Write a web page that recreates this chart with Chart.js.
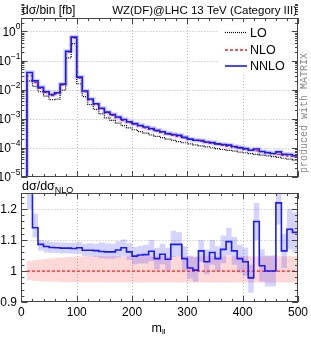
<!DOCTYPE html>
<html>
<head>
<meta charset="utf-8">
<script src="https://cdn.jsdelivr.net/npm/chart.js@4.4.1/dist/chart.umd.min.js"></script>
<style>
body { margin: 0; background: #fff; }
#wrap { position: relative; width: 311px; height: 340px; }
canvas { position: absolute; left: 0; top: 0; }
</style>
</head>
<body>
<div id="wrap">
  <canvas id="mainChart" width="311" height="340"></canvas>
  <canvas id="ratioChart" width="311" height="340"></canvas>
</div>
<script>
// bin edges in m_ll (GeV), 49 bins of width 10
const binEdges = [10, 20, 30, 40, 50, 60, 70, 80, 90, 100,
  110, 120, 130, 140, 150, 160, 170, 180, 190, 200,
  210, 220, 230, 240, 250, 260, 270, 280, 290, 300,
  310, 320, 330, 340, 350, 360, 370, 380, 390, 400,
  410, 420, 430, 440, 450, 460, 470, 480, 490, 500];

// dsigma/bin [fb]
const lo = [0.020, 0.0130, 0.0085, 0.0060, 0.0045, 0.0047, 0.0097, 0.123, 0.38, 0.016,
  0.0058, 0.0031, 0.0021, 0.00147, 0.00108, 0.00088, 0.00071, 0.00058, 0.00049, 0.00042,
  0.00036, 0.00032, 0.00028, 0.00025, 0.000225, 0.000200, 0.000181, 0.000165, 0.000150, 0.000138,
  0.000127, 0.000117, 0.000109, 0.000101, 0.000094, 0.000088, 0.000082, 0.000077, 0.000072, 0.000068,
  0.000064, 0.000060, 0.000056, 0.000053, 0.000050, 0.000047, 0.000044, 0.000041, 0.000038];
const nlo = [0.030, 0.0175, 0.0110, 0.0079, 0.0063, 0.0073, 0.0144, 0.196, 0.596, 0.0251,
  0.00843, 0.0045, 0.0031, 0.00216, 0.0016, 0.00132, 0.00108, 0.000874, 0.000744, 0.00065,
  0.00056, 0.00049, 0.00043, 0.00038, 0.00034, 0.00030, 0.00027, 0.000245, 0.00022, 0.00020,
  0.000183, 0.000168, 0.000155, 0.000143, 0.000132, 0.000122, 0.000113, 0.000105, 0.000098, 0.000091,
  0.000085, 0.000079, 0.000074, 0.000069, 0.000064, 0.000060, 0.000056, 0.000052, 0.000048];
const nnlo = [0.039, 0.020, 0.012, 0.0085, 0.0068, 0.0078, 0.0155, 0.21, 0.64, 0.027,
  0.0090, 0.0048, 0.0033, 0.0023, 0.0017, 0.0014, 0.00115, 0.00094, 0.00079, 0.00068,
  0.00059, 0.00052, 0.00046, 0.00040, 0.00036, 0.00031, 0.00029, 0.00027, 0.00023, 0.00020,
  0.000184, 0.000179, 0.000160, 0.000152, 0.000137, 0.000131, 0.000124, 0.000112, 0.000102, 0.000094,
  0.000083, 0.000092, 0.000075, 0.000069, 0.000064, 0.000073, 0.000060, 0.000059, 0.000054];

// ratio to NLO
const nloRatio = 1.0;
const nnloRatio = [1.30, 1.14, 1.086, 1.079, 1.076, 1.075, 1.074, 1.074, 1.073, 1.075,
  1.067, 1.067, 1.066, 1.063, 1.062, 1.062, 1.068, 1.075, 1.062, 1.048,
  1.052, 1.053, 1.064, 1.040, 1.054, 1.038, 1.086, 1.086, 1.040, 1.010,
  1.003, 1.065, 1.030, 1.060, 1.040, 1.070, 1.095, 1.065, 1.040, 1.030,
  0.978, 1.160, 1.017, 1.000, 1.000, 1.220, 1.065, 1.135, 1.125];
const nnloBandLo = [1.200, 1.108, 1.066, 1.060, 1.058, 1.058, 1.057, 1.057, 1.056, 1.056,
  1.048, 1.047, 1.045, 1.042, 1.040, 1.040, 1.044, 1.048, 1.036, 1.022,
  1.024, 1.024, 1.032, 1.005, 1.022, 1.002, 1.045, 1.048, 1.000, 0.975,
  0.965, 1.030, 0.990, 1.020, 1.000, 1.025, 1.050, 1.020, 0.995, 0.985,
  0.930, 1.100, 0.965, 0.950, 0.950, 1.150, 1.010, 1.070, 1.060];
const nnloBandHi = [1.400, 1.186, 1.100, 1.097, 1.094, 1.093, 1.092, 1.091, 1.091, 1.094,
  1.088, 1.090, 1.088, 1.092, 1.090, 1.088, 1.096, 1.102, 1.090, 1.078,
  1.082, 1.085, 1.100, 1.075, 1.088, 1.075, 1.130, 1.125, 1.080, 1.050,
  1.045, 1.100, 1.070, 1.100, 1.080, 1.115, 1.140, 1.110, 1.085, 1.075,
  1.020, 1.220, 1.070, 1.050, 1.050, 1.300, 1.120, 1.200, 1.190];
const nloBandLo = [0.970, 0.968, 0.967, 0.966, 0.965, 0.965, 0.964, 0.964, 0.964, 0.964,
  0.964, 0.964, 0.964, 0.964, 0.964, 0.963, 0.963, 0.963, 0.963, 0.963,
  0.963, 0.963, 0.963, 0.963, 0.963, 0.963, 0.963, 0.963, 0.963, 0.963,
  0.963, 0.963, 0.963, 0.963, 0.963, 0.963, 0.963, 0.963, 0.963, 0.963,
  0.963, 0.963, 0.963, 0.963, 0.963, 0.963, 0.963, 0.963, 0.963];
const nloBandHi = [1.032, 1.035, 1.037, 1.039, 1.041, 1.043, 1.044, 1.045, 1.046, 1.047,
  1.047, 1.047, 1.048, 1.048, 1.048, 1.048, 1.048, 1.048, 1.048, 1.048,
  1.048, 1.048, 1.048, 1.048, 1.048, 1.048, 1.048, 1.048, 1.048, 1.048,
  1.048, 1.048, 1.048, 1.048, 1.048, 1.048, 1.048, 1.048, 1.048, 1.048,
  1.048, 1.048, 1.048, 1.048, 1.048, 1.048, 1.048, 1.048, 1.048];

const xTicks = [0, 100, 200, 300, 400, 500];
const yExponents = [0, -1, -2, -3, -4, -5];
const ratioTicks = [0.9, 1, 1.1, 1.2];
const seriesNames = ['LO', 'NLO', 'NNLO'];

const FONT = '"Liberation Sans", Arial, sans-serif';
const BLUE = '#1a1aff', RED = '#ff1a1a', BLACK = '#000';

// histogram outline: hold each bin's value up to the next edge
function steps(vals, floor) {
  const pts = [];
  if (floor !== undefined) pts.push({ x: binEdges[0], y: floor });
  vals.forEach((v, i) => pts.push({ x: binEdges[i], y: v }));
  pts.push({ x: binEdges[vals.length], y: vals[vals.length - 1] });
  return pts;
}

function seg(ctx, x1, y1, x2, y2) {
  ctx.beginPath(); ctx.moveTo(x1, y1); ctx.lineTo(x2, y2); ctx.stroke();
}

function framePlugin(cfg) {
  return {
    id: 'frame',
    beforeDatasetsDraw(chart) {
      const { ctx, chartArea: a, scales: { x, y } } = chart;
      ctx.save();
      ctx.strokeStyle = '#b8b8b8';
      ctx.lineWidth = 1;
      ctx.setLineDash([1, 2]);
      xTicks.slice(1, -1).forEach(v => {
        const px = Math.round(x.getPixelForValue(v)) + 0.5;
        seg(ctx, px, a.top, px, a.bottom);
      });
      cfg.yGrid.forEach(v => {
        const py = Math.round(y.getPixelForValue(v)) + 0.5;
        seg(ctx, a.left, py, a.right, py);
      });
      ctx.restore();
    },
    afterDatasetsDraw(chart) {
      const { ctx, chartArea: a, scales: { x, y } } = chart;
      ctx.save();
      ctx.strokeStyle = '#444';
      ctx.lineWidth = 1;
      // ticks pointing inwards on all four sides
      for (let v = 0; v <= 500; v += 20) {
        const px = Math.round(x.getPixelForValue(v)) + 0.5;
        const len = v % 100 === 0 ? 6 : 3;
        seg(ctx, px, a.bottom, px, a.bottom - len);
        seg(ctx, px, a.top, px, a.top + len);
      }
      cfg.yMajor.forEach(v => {
        const py = Math.round(y.getPixelForValue(v)) + 0.5;
        seg(ctx, a.left, py, a.left + 6, py);
        seg(ctx, a.right, py, a.right - 6, py);
      });
      cfg.yMinor.forEach(v => {
        const py = Math.round(y.getPixelForValue(v)) + 0.5;
        seg(ctx, a.left, py, a.left + 3, py);
        seg(ctx, a.right, py, a.right - 3, py);
      });
      ctx.strokeRect(Math.round(a.left) + 0.5, Math.round(a.top) + 0.5,
        Math.round(a.right - a.left) - 1, Math.round(a.bottom - a.top) - 1);
      ctx.restore();
      cfg.extra(chart);
    }
  };
}

// ---------- main panel ----------
const yMinor = [];
for (let e = -5; e <= 0; e++) {
  for (let k = 2; k <= 9; k++) yMinor.push(k * Math.pow(10, e));
}

new Chart(document.getElementById('mainChart'), {
  type: 'line',
  data: {
    datasets: [
      { data: steps(nnlo, 1e-5), borderColor: BLUE, borderWidth: 1.6 },
      { data: steps(nlo, 1e-5), borderColor: RED, borderWidth: 1.3, borderDash: [3, 2] },
      { data: steps(nnlo, 1e-5), borderColor: 'rgba(60,60,255,0.22)', borderWidth: 4.5 },
      { data: steps(lo, 1e-5), borderColor: BLACK, borderWidth: 1.2, borderDash: [1, 1] }
    ]
  },
  options: {
    responsive: false, animation: false, devicePixelRatio: 1,
    layout: { padding: { left: 21.4, right: 13, top: 18, bottom: 163 } },
    elements: { point: { radius: 0 }, line: { stepped: 'before', tension: 0, fill: false } },
    plugins: { legend: { display: false }, tooltip: { enabled: false } },
    scales: {
      x: { type: 'linear', min: 0, max: 500, display: false },
      y: { type: 'logarithmic', min: 1e-5, max: 2.9, display: false }
    }
  },
  plugins: [framePlugin({
    yGrid: [1, 0.1, 0.01, 0.001, 0.0001],
    yMajor: yExponents.map(e => Math.pow(10, e)),
    yMinor: yMinor,
    extra(chart) {
      const { ctx, scales: { y } } = chart;
      ctx.save();
      ctx.fillStyle = '#000';
      // y tick labels 10^n
      yExponents.forEach(e => {
        const py = y.getPixelForValue(Math.pow(10, e));
        const ex = String(e).replace('-', '\u2212');
        ctx.font = '8.5px ' + FONT;
        const ew = ctx.measureText(ex).width;
        ctx.textAlign = 'left'; ctx.textBaseline = 'alphabetic';
        ctx.fillText(ex, 20.5 - ew, py - 2);
        ctx.font = '12px ' + FONT;
        ctx.textAlign = 'right'; ctx.textBaseline = 'middle';
        ctx.fillText('10', 20.5 - ew, py + 1);
      });
      ctx.font = '12px ' + FONT;
      ctx.textBaseline = 'alphabetic';
      ctx.textAlign = 'left';
      ctx.fillText('d\u03c3/bin [fb]', 22, 14);
      ctx.font = '11.5px ' + FONT;
      ctx.textAlign = 'right';
      ctx.fillText('WZ(DF)@LHC 13 TeV (Category III)', 297, 14);

      // legend
      ctx.fillStyle = '#fff';
      ctx.fillRect(219, 22, 70, 53);
      const rows = [
        { y: 32.5, color: BLACK, dash: [1, 1], w: 1.2 },
        { y: 50, color: RED, dash: [3, 2], w: 1.3 },
        { y: 66, color: BLUE, dash: [], w: 1.6 }
      ];
      rows.forEach((r, i) => {
        ctx.strokeStyle = r.color; ctx.lineWidth = r.w; ctx.setLineDash(r.dash);
        seg(ctx, 225, r.y, 247, r.y);
        ctx.setLineDash([]);
        ctx.fillStyle = '#000';
        ctx.font = '12.5px ' + FONT;
        ctx.textAlign = 'left'; ctx.textBaseline = 'middle';
        ctx.fillText(seriesNames[i], 250, r.y + 1);
      });

      // vertical credit
      ctx.translate(304, 113);
      ctx.rotate(-Math.PI / 2);
      ctx.fillStyle = '#8a8a8a';
      ctx.font = '10px "Liberation Mono", monospace';
      ctx.textAlign = 'center'; ctx.textBaseline = 'middle';
      ctx.fillText('produced with MATRIX', 0, 0);
      ctx.restore();
    }
  })]
});

// ---------- ratio panel ----------
const ratioMinor = [];
for (let v = 0.92; v < 1.25; v += 0.02) ratioMinor.push(Math.round(v * 100) / 100);

new Chart(document.getElementById('ratioChart'), {
  type: 'line',
  data: {
    datasets: [
      { data: steps(nnloRatio), borderColor: BLUE, borderWidth: 1.6 },
      { data: steps(nnloRatio.map(() => nloRatio)), borderColor: RED, borderWidth: 1.3, borderDash: [3, 2] },
      { data: steps(nnloBandHi), borderWidth: 0, borderColor: 'rgba(0,0,0,0)', backgroundColor: 'rgba(40,40,255,0.2)', fill: '+1' },
      { data: steps(nnloBandLo), borderWidth: 0, borderColor: 'rgba(0,0,0,0)' },
      { data: steps(nloBandHi), borderWidth: 0, borderColor: 'rgba(0,0,0,0)', backgroundColor: 'rgba(255,40,40,0.18)', fill: '+1' },
      { data: steps(nloBandLo), borderWidth: 0, borderColor: 'rgba(0,0,0,0)' }
    ]
  },
  options: {
    responsive: false, animation: false, devicePixelRatio: 1,
    layout: { padding: { left: 21.4, right: 13, top: 193, bottom: 38 } },
    elements: { point: { radius: 0 }, line: { stepped: 'before', tension: 0, fill: false } },
    plugins: { legend: { display: false }, tooltip: { enabled: false }, filler: { propagate: false } },
    scales: {
      x: { type: 'linear', min: 0, max: 500, display: false },
      y: { type: 'linear', min: 0.9, max: 1.252, display: false }
    }
  },
  plugins: [framePlugin({
    yGrid: [1.1, 1.2],
    yMajor: ratioTicks,
    yMinor: ratioMinor,
    extra(chart) {
      const { ctx, scales: { x, y } } = chart;
      ctx.save();
      ctx.fillStyle = '#000';
      ctx.font = '12px ' + FONT;
      ctx.textAlign = 'right'; ctx.textBaseline = 'middle';
      ratioTicks.forEach(v => ctx.fillText(String(v), 17, y.getPixelForValue(v) + 1));
      ctx.textAlign = 'center';
      xTicks.forEach(v => ctx.fillText(String(v), x.getPixelForValue(v), 313));

      // axis title m_ll
      ctx.textBaseline = 'alphabetic';
      ctx.textAlign = 'left';
      ctx.font = '12.5px ' + FONT;
      ctx.fillText('m', 151.5, 331.5);
      ctx.font = '8px ' + FONT;
      ctx.fillText('ll', 162, 334);

      // panel title
      ctx.font = '12.5px ' + FONT;
      ctx.fillText('d\u03c3/d\u03c3', 22, 190);
      const w = ctx.measureText('d\u03c3/d\u03c3').width;
      ctx.font = '9px ' + FONT;
      ctx.fillText('NLO', 22 + w, 193);
      ctx.restore();
    }
  })]
});
</script>
</body>
</html>
